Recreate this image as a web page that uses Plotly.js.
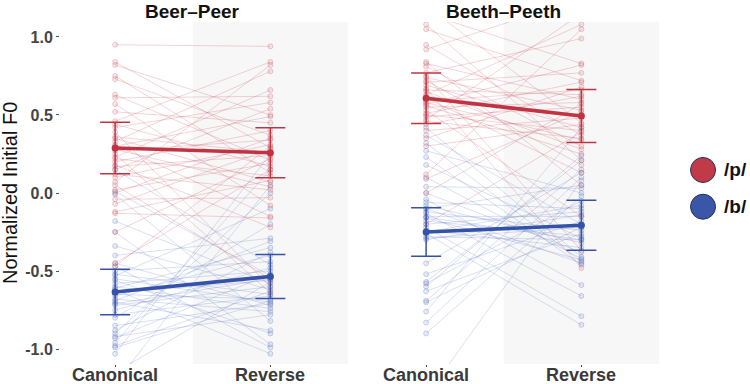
<!DOCTYPE html>
<html>
<head>
<meta charset="utf-8">
<script src="https://cdn.plot.ly/plotly-3.0.1.min.js"></script>
<style>
  html, body { margin: 0; padding: 0; background: #ffffff; }
  #chart { width: 750px; height: 384px; }
</style>
</head>
<body>
<div id="chart"></div>
<script>
// Conditions on the x axis and panel names
const categories = ['Canonical', 'Reverse'];
const panelTitles = ['Beer–Peer', 'Beeth–Peeth'];
const legendLabels = ['/p/', '/b/'];

// Per-subject normalized initial F0, Beer–Peer, /p/
const beerP_canonical = [0.95, 0.84, 0.82, 0.75, 0.73, 0.63, 0.61, 0.57, 0.52, 0.46,
  0.44, 0.42, 0.39, 0.36, 0.35, 0.33, 0.31, 0.30, 0.28, 0.27,
  0.25, 0.23, 0.22, 0.20, 0.18, 0.17, 0.15, 0.12, 0.10, 0.07,
  0.05, 0.02, 0.00, -0.04, -0.07, -0.12, -0.13, -0.25, -0.45, -0.47];
const beerP_reverse = [0.94, 0.29, 0.50, 0.13, 0.37, 0.21, 0.62, -0.08, 0.45, 0.84,
  0.17, 0.58, -0.60, 0.26, 0.07, 0.78, -0.15, 0.49, 0.04, 0.34,
  -0.64, 0.66, 0.11, 0.40, -0.22, 0.24, 0.54, 0.02, 0.31, 0.82,
  -0.55, 0.19, 0.35, -0.03, 0.28, 0.08, -0.16, 0.22, 0.15, 0.30];

// Beer–Peer, /b/
const beerB_canonical = [0.15, 0.01, -0.01, -0.18, -0.25, -0.34, -0.40, -0.45, -0.47, -0.50,
  -0.52, -0.53, -0.55, -0.56, -0.58, -0.60, -0.61, -0.62, -0.64, -0.65,
  -0.66, -0.68, -0.69, -0.70, -0.71, -0.72, -0.75, -0.78, -0.80, -0.85,
  -0.88, -0.90, -0.92, -0.93, -0.96, -0.98, -0.99, -1.03, -1.15, -1.22];
const beerB_reverse = [-0.46, -0.53, -0.82, -0.58, -0.97, -0.62, -0.29, -0.72, -0.99, -0.44,
  -0.65, -0.10, -0.70, -0.90, -0.50, -0.74, -0.35, -1.03, -0.56, -0.68,
  -0.40, -0.76, -0.31, -0.88, -0.55, -0.60, -0.48, -0.66, -0.20, -0.71,
  -0.38, 0.00, -0.78, -0.52, 0.15, -0.63, -0.69, 0.25, -0.57, 0.05];

// Beeth–Peeth, /p/
const beethP_canonical = [1.20, 1.15, 1.08, 1.05, 0.95, 0.92, 0.84, 0.83, 0.81, 0.77,
  0.75, 0.74, 0.72, 0.71, 0.69, 0.67, 0.66, 0.65, 0.63, 0.62,
  0.61, 0.59, 0.58, 0.57, 0.56, 0.55, 0.53, 0.51, 0.50, 0.49,
  0.47, 0.46, 0.44, 0.40, 0.35, 0.30, 0.12, 0.09, 0.00, -0.20];
const beethP_reverse = [0.45, 0.83, 0.21, 0.72, 0.37, 1.25, 0.05, 0.60, 0.30, 0.99,
  -0.37, 0.53, 0.18, 0.77, 0.42, -0.48, 0.63, 0.28, 1.08, 0.50,
  0.13, 0.66, 0.34, 0.82, 0.25, 0.58, -0.15, 0.71, 0.40, 0.55,
  1.15, 0.35, 0.62, 0.48, 0.68, 0.44, 1.05, 0.52, 0.57, 0.39];

// Beeth–Peeth, /b/
const beethB_canonical = [0.42, 0.37, 0.32, 0.27, 0.23, 0.18, 0.10, 0.04, 0.00, -0.04,
  -0.06, -0.08, -0.10, -0.10, -0.12, -0.13, -0.15, -0.155, -0.16, -0.18,
  -0.20, -0.22, -0.24, -0.25, -0.26, -0.28, -0.29, -0.30, -0.45, -0.52,
  -0.57, -0.58, -0.60, -0.63, -0.69, -0.70, -0.76, -0.83, -0.90, -1.30];
const beethB_reverse = [-0.41, -0.20, -0.44, 0.00, -0.46, -0.29, -0.42, 0.03, -0.38, -0.59,
  -0.10, -0.32, 0.05, -0.45, -0.24, -0.66, -0.15, -0.30, -0.43, -0.276,
  -0.12, -0.79, -0.35, -0.08, -0.845, -0.30, -0.22, -0.14, 0.13, -0.18,
  0.21, -0.05, 0.24, -0.26, 0.15, -0.22, 0.42, 0.10, -0.02, 0.08];

// Group means and error bar half-widths (Canonical, Reverse)
const beerP_mean = [0.288, 0.258];
const beerP_err = [0.165, 0.160];
const beerB_mean = [-0.635, -0.535];
const beerB_err = [0.146, 0.141];
const beethP_mean = [0.607, 0.494];
const beethP_err = [0.162, 0.170];
const beethB_mean = [-0.250, -0.207];
const beethB_err = [0.156, 0.160];

const yTickVals = [-1.0, -0.5, 0.0, 0.5, 1.0];
const yTickText = ['-1.0', '-0.5', '0.0', '0.5', '1.0'];

// Colours
const RED = 'rgb(192,52,66)';
const BLUE = 'rgb(52,82,168)';
const RED_LEG = 'rgb(192,58,72)';
const BLUE_LEG = 'rgb(58,86,168)';
const style = {
  p: { line: 'rgba(205,75,90,0.30)', fill: 'rgba(215,110,120,0.15)', edge: 'rgba(195,70,85,0.33)', mean: RED },
  b: { line: 'rgba(75,105,190,0.26)', fill: 'rgba(110,135,200,0.15)', edge: 'rgba(70,95,180,0.33)', mean: BLUE }
};

const xPos = categories.map((c, i) => i + 1);

// One trace per group: each subject is a segment from Canonical to Reverse
function subjectTrace(can, rev, xa, ya, s) {
  const x = [], y = [];
  for (let i = 0; i < can.length; i++) {
    x.push(xPos[0], xPos[1], null);
    y.push(can[i], rev[i], null);
  }
  return {
    type: 'scatter', mode: 'lines+markers', x: x, y: y, xaxis: xa, yaxis: ya,
    connectgaps: false, hoverinfo: 'skip', showlegend: false,
    line: { color: s.line, width: 0.8 },
    marker: { size: 5, color: s.fill, line: { color: s.edge, width: 0.8 } }
  };
}

function meanTrace(m, e, xa, ya, s) {
  return {
    type: 'scatter', mode: 'lines+markers', x: xPos, y: m, xaxis: xa, yaxis: ya,
    showlegend: false, hoverinfo: 'skip',
    line: { color: s.mean, width: 3.6 },
    marker: { size: 7, color: s.mean },
    error_y: { type: 'data', array: e, visible: true, color: s.mean, thickness: 1.5, width: 15 }
  };
}

const data = [
  subjectTrace(beerB_canonical, beerB_reverse, 'x', 'y', style.b),
  subjectTrace(beerP_canonical, beerP_reverse, 'x', 'y', style.p),
  subjectTrace(beethB_canonical, beethB_reverse, 'x2', 'y2', style.b),
  subjectTrace(beethP_canonical, beethP_reverse, 'x2', 'y2', style.p),
  meanTrace(beerP_mean, beerP_err, 'x', 'y', style.p),
  meanTrace(beerB_mean, beerB_err, 'x', 'y', style.b),
  meanTrace(beethP_mean, beethP_err, 'x2', 'y2', style.p),
  meanTrace(beethB_mean, beethB_err, 'x2', 'y2', style.b)
];

const FONT = 'Liberation Sans, Arial, sans-serif';
const xRange = [0.645, 2.5];
const yRange = [-1.096, 1.096];

// Tick marks come from the axes; the condition labels sit just below as annotations
const xAxisBase = {
  range: xRange, tickvals: xPos, showticklabels: false,
  showgrid: false, zeroline: false, showline: false,
  ticks: 'outside', ticklen: 2, tickwidth: 1, tickcolor: '#444444',
  fixedrange: true
};
const yAxisBase = {
  range: yRange, showgrid: false, zeroline: false, showline: false,
  fixedrange: true
};

const titleFont = { family: FONT, size: 19, color: '#111111', weight: 'bold' };
const catFont = { family: FONT, size: 18, color: '#3a3a3a', weight: 'bold' };
const legFont = { family: FONT, size: 19, color: '#111111', weight: 'bold' };

const annotations = [
  { text: panelTitles[0], xref: 'x', yref: 'paper', x: 1.5, y: 1, yanchor: 'middle', yshift: 11,
    showarrow: false, font: titleFont },
  { text: panelTitles[1], xref: 'x2', yref: 'paper', x: 1.5, y: 1, yanchor: 'middle', yshift: 11,
    showarrow: false, font: titleFont },
  { text: 'Normalized Initial F0', xref: 'paper', yref: 'paper', x: -0.0835, y: 0.5,
    xanchor: 'center', yanchor: 'middle', textangle: -90, showarrow: false,
    font: { family: FONT, size: 20, color: '#111111' } },
  { text: legendLabels[0], xref: 'paper', yref: 'paper', x: 1.105, y: 0.5673,
    xanchor: 'left', yanchor: 'middle', showarrow: false, font: legFont },
  { text: legendLabels[1], xref: 'paper', yref: 'paper', x: 1.105, y: 0.4599,
    xanchor: 'left', yanchor: 'middle', showarrow: false, font: legFont }
];
['x', 'x2'].forEach(function (xa) {
  categories.forEach(function (c, i) {
    annotations.push({ text: c, xref: xa, yref: 'paper', x: xPos[i], y: 0,
      yanchor: 'middle', yshift: -10.5, showarrow: false, font: catFont });
  });
});

const layout = {
  width: 750, height: 384,
  margin: { l: 60, r: 91, t: 22, b: 20 },
  paper_bgcolor: '#ffffff', plot_bgcolor: 'rgba(0,0,0,0)',
  showlegend: false,
  xaxis: Object.assign({}, xAxisBase, { domain: [0, 0.4808], anchor: 'y' }),
  xaxis2: Object.assign({}, xAxisBase, { domain: [0.5192, 1], anchor: 'y2' }),
  yaxis: Object.assign({}, yAxisBase, {
    anchor: 'x', tickvals: yTickVals, ticktext: yTickText,
    ticks: 'outside', ticklen: 3, tickwidth: 1, tickcolor: '#555555',
    tickfont: { family: FONT, size: 16, color: '#444444', weight: 'bold' }
  }),
  yaxis2: Object.assign({}, yAxisBase, { anchor: 'x2', matches: 'y', showticklabels: false, ticks: '' }),
  shapes: [
    // shaded Reverse half of each panel
    { type: 'rect', xref: 'x', yref: 'y domain', x0: 1.5, x1: 2.5, y0: 0, y1: 1,
      fillcolor: '#f7f7f7', line: { width: 0 }, layer: 'below' },
    { type: 'rect', xref: 'x2', yref: 'y2 domain', x0: 1.5, x1: 2.5, y0: 0, y1: 1,
      fillcolor: '#f7f7f7', line: { width: 0 }, layer: 'below' },
    // legend keys
    { type: 'circle', xref: 'paper', yref: 'paper', xsizemode: 'pixel', ysizemode: 'pixel',
      xanchor: 1.0735, yanchor: 0.5673, x0: -12.5, x1: 12.5, y0: -12.5, y1: 12.5,
      fillcolor: RED_LEG, line: { color: '#2b2f5a', width: 1 } },
    { type: 'circle', xref: 'paper', yref: 'paper', xsizemode: 'pixel', ysizemode: 'pixel',
      xanchor: 1.0735, yanchor: 0.4599, x0: -12.5, x1: 12.5, y0: -12.5, y1: 12.5,
      fillcolor: BLUE_LEG, line: { color: '#2b2f5a', width: 1 } }
  ],
  annotations: annotations
};

Plotly.newPlot('chart', data, layout, { staticPlot: true, displayModeBar: false });
</script>
</body>
</html>
